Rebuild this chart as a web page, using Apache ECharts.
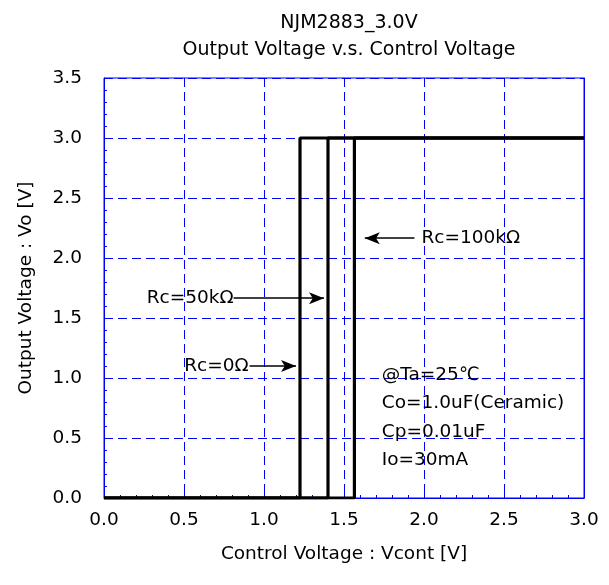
<!DOCTYPE html>
<html>
<head>
<meta charset="utf-8">
<script src="https://cdn.jsdelivr.net/npm/echarts@6/dist/echarts.min.js"></script>
<style>html,body{margin:0;padding:0;background:#fff}#c{width:609px;height:585px}</style>
</head>
<body>
<div id="c"></div>
<script>
var titleLines = ['NJM2883_3.0V', 'Output Voltage v.s. Control Voltage'];
var xName = 'Control Voltage : Vcont [V]';
var yName = 'Output Voltage : Vo [V]';
var seriesNames = ['Rc=0Ω', 'Rc=50kΩ', 'Rc=100kΩ'];
var rc0 = [[0, 0], [1.225, 0], [1.225, 3.0], [3.0, 3.0]];
var rc50k = [[0, 0], [1.40, 0], [1.40, 3.0], [3.0, 3.0]];
var rc100k = [[0, 0], [1.565, 0], [1.565, 3.0], [3.0, 3.0]];
var conditions = ['@Ta=25℃', 'Co=1.0uF(Ceramic)', 'Cp=0.01uF', 'Io=30mA'];

var FONT = 'DejaVu Sans';
var FS = 18.5;
var BLUE = '#0000ff';
var chart = echarts.init(document.getElementById('c'), null, {renderer: 'canvas'});

function lineSeries(name, data, arrow, labelPos) {
  return {
    name: name, type: 'line', data: data, symbol: 'none',
    lineStyle: {color: '#000', width: 3.2}, z: 5,
    markLine: {
      silent: true, animation: false,
      symbol: ['none', 'arrow'], symbolSize: [9, 15],
      lineStyle: {color: '#000', width: 1.5, type: 'solid'},
      label: {show: false},
      data: [[{coord: arrow[0]}, {coord: arrow[1]}]]
    },
    markPoint: {
      silent: true, animation: false, symbol: 'circle', symbolSize: 0,
      data: [{coord: labelPos.coord, label: {show: true, formatter: name, position: labelPos.pos,
        distance: labelPos.dist, color: '#000', fontFamily: FONT, fontSize: FS}}]
    }
  };
}

var option = {
  animation: false,
  backgroundColor: '#fff',
  title: {
    text: titleLines.join('\n'), left: 344, top: 5, textAlign: 'center',
    textStyle: {fontFamily: FONT, fontSize: 19, fontWeight: 'normal', color: '#000', lineHeight: 27}
  },
  grid: {left: 104, right: 25, top: 78, bottom: 87, show: true, borderColor: BLUE, borderWidth: 1},
  xAxis: [{
    type: 'value', min: 0, max: 3, interval: 0.5,
    name: xName, nameLocation: 'middle', nameGap: 47,
    nameTextStyle: {fontFamily: FONT, fontSize: FS, color: '#000'},
    axisLine: {show: true, lineStyle: {color: BLUE, width: 1}},
    axisTick: {show: true, inside: true, length: 6, lineStyle: {color: BLUE}},
    minorTick: {show: true, splitNumber: 5, length: 3, lineStyle: {color: BLUE}},
    axisLabel: {fontFamily: FONT, fontSize: FS, color: '#000', margin: 13, formatter: function (v) { return v.toFixed(1); }},
    splitLine: {show: true, lineStyle: {color: BLUE, type: [9, 5], width: 1}}
  }],
  yAxis: [{
    type: 'value', min: 0, max: 3.5, interval: 0.5,
    name: yName, nameLocation: 'middle', nameGap: 68,
    nameTextStyle: {fontFamily: FONT, fontSize: FS, color: '#000'},
    axisLine: {show: true, lineStyle: {color: BLUE, width: 1}},
    axisTick: {show: true, inside: true, length: 6, lineStyle: {color: BLUE}},
    minorTick: {show: true, splitNumber: 5, length: 3, lineStyle: {color: BLUE}},
    axisLabel: {fontFamily: FONT, fontSize: FS, color: '#000', margin: 22, formatter: function (v) { return v.toFixed(1); }},
    splitLine: {show: true, lineStyle: {color: BLUE, type: [9, 5], width: 1}}
  }, {
    type: 'value', min: 0, max: 3.5, interval: 0.5, position: 'right',
    axisLine: {show: true, lineStyle: {color: BLUE, width: 1}},
    axisTick: {show: true, inside: true, length: 4, lineStyle: {color: BLUE}},
    axisLabel: {show: false}, splitLine: {show: false}
  }],
  series: [
    lineSeries(seriesNames[0], rc0, [[0.91, 1.1], [1.20, 1.1]], {coord: [0.91, 1.1], pos: 'left', dist: 1}),
    lineSeries(seriesNames[1], rc50k, [[0.81, 1.665], [1.375, 1.665]], {coord: [0.81, 1.665], pos: 'left', dist: 0}),
    lineSeries(seriesNames[2], rc100k, [[1.94, 2.165], [1.63, 2.165]], {coord: [1.94, 2.165], pos: 'right', dist: 7}),
    {
      name: 'conditions', type: 'scatter', data: [], silent: true,
      markPoint: {
        silent: true, animation: false, symbol: 'circle', symbolSize: 0,
        data: [{coord: [1.736, 1.14], label: {show: true, formatter: conditions.join('\n'), position: 'inside',
          align: 'left', verticalAlign: 'top', lineHeight: 28.3, color: '#000', fontFamily: FONT, fontSize: FS}}]
      }
    }
  ]
};
chart.setOption(option);
</script>
</body>
</html>
